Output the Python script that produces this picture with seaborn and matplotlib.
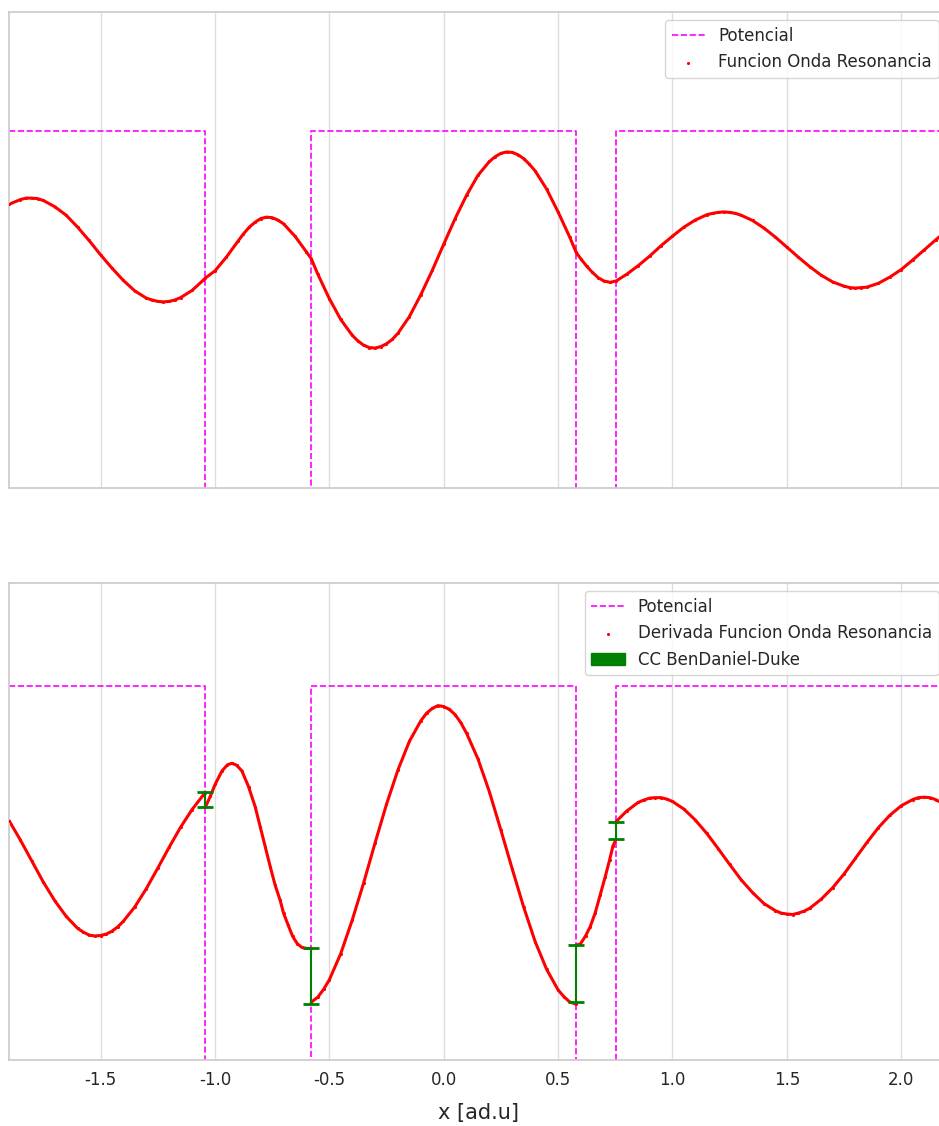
import numpy as np
import pandas as pd
import matplotlib
matplotlib.use("Agg")
import matplotlib.pyplot as plt
import matplotlib.patches as mpatches
import seaborn as sns

# ---------------- data ----------------
# potential steps (x boundaries and levels)
pot_x = [-1.9, -1.042, -0.579, 0.579, 0.754, 2.2]
pot_top = [75, -1, 75, -1, 75, 75]
pot_bot = [78.4, -1, 78.4, -1, 78.4, 78.4]

# wave function (top panel)
psi_x = [-1.90, -1.85, -1.825, -1.80, -1.775, -1.75, -1.70, -1.65, -1.60, -1.55,
         -1.50, -1.45, -1.40, -1.35, -1.30, -1.275, -1.25, -1.225, -1.20, -1.175,
         -1.15, -1.10, -1.05, -1.042,
         -1.00, -0.95, -0.90, -0.875, -0.85, -0.825, -0.80, -0.775, -0.75, -0.725,
         -0.70, -0.65, -0.60, -0.579,
         -0.55, -0.50, -0.45, -0.40, -0.375, -0.35, -0.325, -0.30, -0.275, -0.25,
         -0.225, -0.20, -0.15, -0.10, -0.05, 0.00, 0.05, 0.10, 0.15, 0.20,
         0.225, 0.25, 0.275, 0.30, 0.325, 0.35, 0.375, 0.40, 0.45, 0.50,
         0.55, 0.579,
         0.60, 0.625, 0.65, 0.675, 0.70, 0.728, 0.754,
         0.80, 0.85, 0.90, 0.95, 1.00, 1.05, 1.10, 1.15, 1.175, 1.20,
         1.225, 1.25, 1.275, 1.30, 1.35, 1.40, 1.45, 1.50, 1.55, 1.60,
         1.65, 1.70, 1.75, 1.775, 1.80, 1.825, 1.85, 1.90, 1.95, 2.00,
         2.05, 2.10, 2.15, 2.20]
psi_y = [59.6, 60.6, 60.9, 60.9, 60.8, 60.4, 59.1, 57.3, 54.8, 52.0,
         49.0, 46.2, 43.6, 41.4, 39.9, 39.5, 39.2, 39.1, 39.2, 39.5,
         40.0, 41.5, 43.7, 44.1,
         45.6, 48.5, 51.8, 53.4, 54.8, 55.8, 56.6, 56.9, 56.8, 56.3,
         55.5, 52.9, 49.6, 48.2,
         44.9, 39.8, 35.4, 32.1, 30.9, 30.0, 29.5, 29.4, 29.7, 30.3,
         31.2, 32.5, 36.0, 40.6, 45.7, 51.2, 56.6, 61.5, 65.7, 68.6,
         69.6, 70.3, 70.6, 70.5, 70.0, 69.2, 68.0, 66.6, 62.8, 58.0,
         52.8, 49.5,
         48.1, 46.6, 45.3, 44.2, 43.5, 43.2, 43.5,
         44.9, 46.7, 48.7, 50.9, 52.9, 54.8, 56.3, 57.4, 57.7, 57.9,
         58.0, 57.9, 57.7, 57.3, 56.2, 54.6, 52.7, 50.6, 48.5, 46.5,
         44.7, 43.3, 42.4, 42.1, 42.0, 42.1, 42.2, 43.0, 44.3, 45.9,
         47.9, 50.0, 52.1, 54.1]

# derivative of the wave function (bottom panel), one list per region
d1_x = [-1.90, -1.85, -1.80, -1.75, -1.70, -1.65, -1.60, -1.575, -1.55, -1.525,
        -1.50, -1.475, -1.45, -1.425, -1.40, -1.35, -1.30, -1.25, -1.20, -1.15,
        -1.10, -1.05, -1.042]
d1_y = [50.2, 46.1, 41.7, 37.3, 33.4, 30.1, 27.6, 26.8, 26.2, 26.0,
        26.1, 26.4, 27.0, 27.9, 29.1, 32.1, 35.9, 40.2, 44.6, 48.8,
        52.5, 55.6, 56.0]
d2_x = [-1.042, -1.020, -0.999, -0.969, -0.945, -0.926, -0.905, -0.882, -0.853,
        -0.824, -0.802, -0.780, -0.758, -0.737, -0.715, -0.700, -0.680, -0.660,
        -0.640, -0.620, -0.600, -0.579]
d2_y = [53.0, 55.3, 57.8, 60.6, 61.9, 62.2, 61.8, 60.6, 57.3,
        53.1, 48.9, 44.7, 40.5, 36.7, 33.5, 30.8, 28.3, 25.9,
        24.4, 23.6, 23.4, 23.4]
d3_x = [-0.579, -0.55, -0.525, -0.50, -0.45, -0.40, -0.35, -0.30, -0.25, -0.20,
        -0.15, -0.10, -0.075, -0.05, -0.025, 0.00, 0.025, 0.05, 0.075, 0.10,
        0.15, 0.20, 0.25, 0.30, 0.35, 0.40, 0.45, 0.50, 0.525, 0.55, 0.579]
d3_y = [12.1, 13.2, 14.8, 16.8, 22.3, 29.3, 37.1, 45.5, 53.6, 60.8,
        66.8, 71.1, 72.7, 73.7, 74.3, 74.1, 73.5, 72.4, 70.7, 68.5,
        63.1, 56.2, 48.2, 40.0, 32.0, 24.8, 19.0, 14.7, 13.3, 12.2, 11.7]
d4_x = [0.579, 0.597, 0.620, 0.640, 0.662, 0.684, 0.706, 0.725, 0.740, 0.754]
d4_y = [24.1, 24.3, 26.0, 27.9, 30.8, 34.6, 38.4, 41.9, 44.9, 46.3]
d5_x = [0.754, 0.80, 0.85, 0.875, 0.90, 0.925, 0.95, 0.975, 1.00, 1.05,
        1.10, 1.15, 1.20, 1.25, 1.30, 1.35, 1.40, 1.45, 1.475, 1.50,
        1.525, 1.55, 1.575, 1.60, 1.65, 1.70, 1.75, 1.80, 1.85, 1.90,
        1.95, 2.00, 2.05, 2.075, 2.10, 2.125, 2.15, 2.20]
d5_y = [50.0, 52.2, 54.0, 54.5, 54.9, 55.0, 55.0, 54.7, 54.2, 52.6,
        50.3, 47.5, 44.3, 41.0, 37.8, 35.1, 32.8, 31.3, 30.8, 30.6,
        30.5, 30.8, 31.2, 31.8, 33.7, 36.1, 39.0, 42.3, 45.6, 48.7,
        51.3, 53.3, 54.6, 55.0, 55.1, 55.0, 54.6, 53.3]

# BenDaniel-Duke boundary conditions (jump of the derivative at interfaces)
cc_x = [-1.042, -0.579, 0.579, 0.754]
cc_low = [53.0, 11.8, 12.1, 46.3]
cc_high = [56.1, 23.4, 24.1, 49.8]

xticks = [-1.5, -1.0, -0.5, 0.0, 0.5, 1.0, 1.5, 2.0]

# ---------------- style ----------------
sns.set_theme(style="whitegrid")
plt.rcParams["font.family"] = ["DejaVu Sans"]
plt.rcParams["axes.unicode_minus"] = False

W, H = 939, 1126
fig = plt.figure(figsize=(W / 100, H / 100), dpi=100)
ax1 = fig.add_axes([9 / W, 1 - 488 / H, (947 - 9) / W, 476 / H])
ax2 = fig.add_axes([9 / W, 1 - 1060 / H, (947 - 9) / W, 477 / H], sharex=ax1)

RED = "red"
MAG = "magenta"

# ---- top panel ----
pot_df_top = pd.DataFrame({"x": pot_x, "V": pot_top})
sns.lineplot(data=pot_df_top, x="x", y="V", ax=ax1, color=MAG, linestyle="--",
             linewidth=1.2, drawstyle="steps-post", sort=False, estimator=None,
             label="Potencial")
psi_df = pd.DataFrame({"x": psi_x, "psi": psi_y})
sns.lineplot(data=psi_df, x="x", y="psi", ax=ax1, color=RED, linewidth=2.2,
             sort=False, estimator=None, legend=False)
sns.scatterplot(data=psi_df, x="x", y="psi", ax=ax1, color=RED, s=5,
                linewidth=0, label="Funcion Onda Resonancia", zorder=3)

# ---- bottom panel ----
pot_df_bot = pd.DataFrame({"x": pot_x, "V": pot_bot})
sns.lineplot(data=pot_df_bot, x="x", y="V", ax=ax2, color=MAG, linestyle="--",
             linewidth=1.2, drawstyle="steps-post", sort=False, estimator=None,
             label="Potencial")
segs = [(d1_x, d1_y), (d2_x, d2_y), (d3_x, d3_y), (d4_x, d4_y), (d5_x, d5_y)]
rows = []
for i, (sx, sy) in enumerate(segs):
    for a, b in zip(sx, sy):
        rows.append({"x": a, "dpsi": b, "region": i})
der_df = pd.DataFrame(rows)
sns.lineplot(data=der_df, x="x", y="dpsi", units="region", ax=ax2, color=RED,
             linewidth=2.2, sort=False, estimator=None, legend=False)
sns.scatterplot(data=der_df, x="x", y="dpsi", ax=ax2, color=RED, s=5,
                linewidth=0, label="Derivada Funcion Onda Resonancia", zorder=3)
cc_mid = [(a + b) / 2 for a, b in zip(cc_low, cc_high)]
cc_err = [(b - a) / 2 for a, b in zip(cc_low, cc_high)]
ax2.errorbar(cc_x, cc_mid, yerr=cc_err, fmt="none", ecolor="green",
             elinewidth=1.5, capsize=6, capthick=2, zorder=4)

for ax in (ax1, ax2):
    ax.set_xlim(-1.9, 2.2)
    ax.set_ylim(0, 100)
    ax.set_yticks([])
    ax.set_ylabel("")
    ax.set_xticks(xticks)
    ax.grid(True, axis="x", color="#dddddd", linewidth=1)
    for s in ax.spines.values():
        s.set_color("#cccccc")

ax1.set_xlabel("")
ax1.tick_params(axis="x", labelbottom=False)
ax2.set_xticklabels([f"{t:.1f}" for t in xticks])
ax2.tick_params(axis="x", labelsize=12, pad=2)
ax2.set_xlabel("x [ad.u]", fontsize=15, labelpad=10)

h1, l1 = ax1.get_legend_handles_labels()
ax1.legend(h1, l1, loc="upper right", fontsize=12)
h2, l2 = ax2.get_legend_handles_labels()
h2.append(mpatches.Patch(color="green", label="CC BenDaniel-Duke"))
l2.append("CC BenDaniel-Duke")
ax2.legend(h2, l2, loc="upper right", fontsize=12)

fig.savefig("out.png", dpi=100)
